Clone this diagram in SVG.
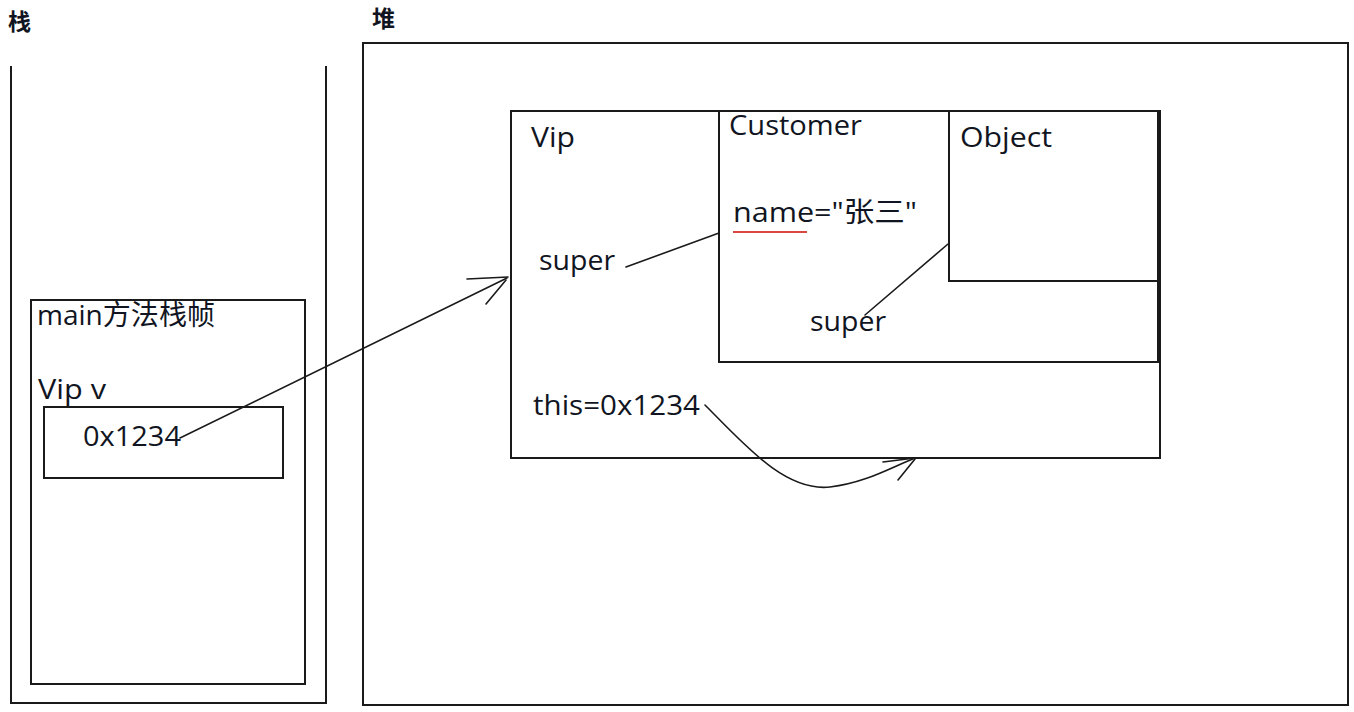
<svg xmlns="http://www.w3.org/2000/svg" width="1354" height="712" viewBox="0 0 1354 712">
<style>
.box{fill:none;stroke:#1a1a1a;stroke-width:2}
.t{font-family:"Open Sans","Noto Sans CJK SC",sans-serif;fill:#111522;font-size:28px}
.cn{font-family:"Noto Sans CJK SC",sans-serif;fill:#111522;font-weight:bold;font-size:23px}
.ln{fill:none;stroke:#1a1a1a;stroke-width:1.6;stroke-linecap:round}
</style>
<rect width="1354" height="712" fill="#ffffff"/>
<g id="stack">
<text class="cn" x="8" y="30">栈</text>
<path class="box" d="M11,66 V703 H326 V66"/>
</g>
<g id="heap">
<text class="cn" x="372" y="27">堆</text>
<rect class="box" x="363" y="43" width="985" height="662"/>
</g>
<g id="main-frame">
<rect class="box" x="31" y="300" width="274" height="384"/>
<text class="t" x="37" y="325" font-size="24" textLength="178" lengthAdjust="spacingAndGlyphs">main方法栈帧</text>
<text class="t" x="38" y="399" textLength="68" lengthAdjust="spacingAndGlyphs">Vip v</text>
</g>
<g id="ref-v">
<rect class="box" x="44" y="407" width="239" height="71"/>
<text class="t" x="83" y="446" textLength="98" lengthAdjust="spacingAndGlyphs">0x1234</text>
</g>
<g id="vip">
<rect class="box" x="511" y="111" width="649" height="347"/>
<text class="t" x="531" y="147" textLength="44" lengthAdjust="spacingAndGlyphs">Vip</text>
<text class="t" x="539" y="270" textLength="76" lengthAdjust="spacingAndGlyphs">super</text>
<text class="t" x="533" y="415" textLength="167" lengthAdjust="spacingAndGlyphs">this=0x1234</text>
</g>
<g id="customer">
<rect class="box" x="719" y="111" width="439" height="251"/>
<text class="t" x="729" y="135" textLength="133" lengthAdjust="spacingAndGlyphs">Customer</text>
<text class="t" x="733" y="222" textLength="184" lengthAdjust="spacingAndGlyphs">name="张三"</text>
<line x1="733" y1="232" x2="807" y2="232" stroke="#d9473f" stroke-width="2"/>
<text class="t" x="810" y="331" textLength="76" lengthAdjust="spacingAndGlyphs">super</text>
</g>
<g id="object">
<rect class="box" x="949" y="111" width="209" height="170"/>
<text class="t" x="960" y="147" textLength="92" lengthAdjust="spacingAndGlyphs">Object</text>
</g>
<g id="connectors">
<path class="ln" d="M180,438 L507,278"/>
<path class="ln" d="M467,279 L508,277 M486,304 L506,280"/>
<path class="ln" d="M626,267 L719,233"/>
<path class="ln" d="M865,315 L948,244"/>
<path class="ln" d="M705,405 C745,445 785,492 830,487 C865,483 890,468 915,458"/>
<path class="ln" d="M883,462 L915,458 M898,480 L915,459"/>
</g>
</svg>
